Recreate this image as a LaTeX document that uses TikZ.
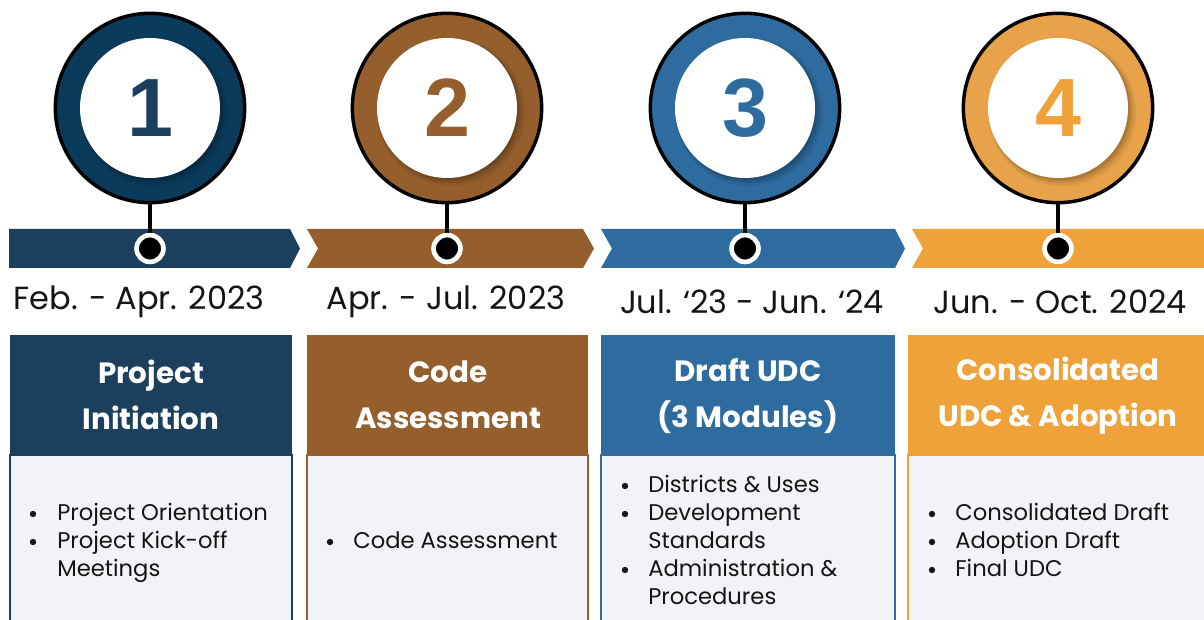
\documentclass[tikz,border=0pt]{standalone}
\usepackage{fontspec}
\setmainfont{Poppins}
\newfontfamily\numfont{Liberation Sans}
\definecolor{cnavy}{HTML}{1B3F5C}
\definecolor{cnavyring}{HTML}{0B3B5B}
\definecolor{cbrown}{HTML}{955F2D}
\definecolor{cblue}{HTML}{2E6CA0}
\definecolor{corange}{HTML}{F0A23A}
\definecolor{corangering}{HTML}{E8A34A}
\definecolor{bodygray}{HTML}{F2F3F7}
\definecolor{ink}{HTML}{141414}
\tikzset{
  ring/.style={circle, draw=black, line width=2.6pt, minimum size=142pt, inner sep=0pt},
  face/.style={circle, fill=white, minimum size=105pt, inner sep=0pt,
               font=\numfont\bfseries\fontsize{62}{62}\selectfont},
  pin/.style={circle, fill=black, draw=white, line width=3.4pt, minimum size=20pt, inner sep=0pt},
  stem/.style={line width=3pt, black},
  datelbl/.style={font=\fontsize{24}{26}\selectfont, text=ink, inner sep=0pt},
  hdr/.style={font=\bfseries\fontsize{22}{34.5}\selectfont, text=white, align=center, inner sep=0pt},
  item/.style={font=\fontsize{17}{18}\selectfont, text=ink, anchor=base west, inner sep=0pt},
}
% one bullet line: name, x of bullet, x of text, baseline y, text
\newcommand\bulletline[5]{%
  \fill[ink] (#2,#4-6) circle (3.2);
  \node[item] (#1) at (#3,#4) {#5};}
\newcommand\contline[4]{\node[item] (#1) at (#2,#3) {#4};}
\begin{document}
\begin{tikzpicture}[x=0.75pt, y=-0.75pt]
\useasboundingbox (0,0) rectangle (1204,620);
\clip (0,0) rectangle (1204,620);

% timeline bar made of chevrons
\fill[cnavy]  (9,229) -- (290,229) -- (300,248.5) -- (290,268) -- (9,268) -- cycle;
\fill[cbrown] (307,229) -- (583,229) -- (594,248.5) -- (583,268) -- (307,268) -- (318,248.5) -- cycle;
\fill[cblue]  (601,229) -- (895,229) -- (905,248.5) -- (895,268) -- (601,268) -- (612,248.5) -- cycle;
\fill[corange](912,229) -- (1210,229) -- (1210,268) -- (912,268) -- (923,248.5) -- cycle;

% numbered milestone rings
\foreach \n/\cx/\ring/\numc/\lab in {1/150/cnavyring/cnavy/1, 2/447/cbrown/cbrown/2, 3/745/cblue/cblue/3, 4/1058/corangering/corange/4}{
  \node[ring, fill=\ring] (r\n) at (\cx,108) {};
  \fill[black, opacity=.07] (\cx+4,112) circle (74);
  \fill[black, opacity=.09] (\cx+3,111) circle (72);
  \fill[black, opacity=.12] (\cx+2,110) circle (70.5);
  \node[face, text=\numc] (f\n) at (\cx,108) {\lab};
  \node[pin] (p\n) at (\cx,248.5) {};
  \draw[stem] (r\n.south) -- (p\n.north);
  \node[pin] at (p\n) {};
}

% dates
\node[datelbl] (d1) at (139,302) {Feb. - Apr. 2023};
\node[datelbl] (d2) at (446,302) {Apr. - Jul. 2023};
\node[datelbl] (d3) at (752,302) {Jul. ‘23 - Jun. ‘24};
\node[datelbl] (d4) at (1060,302) {Jun. - Oct. 2024};

% phase boxes
\foreach \l/\r/\c in {10/292/cnavy, 307/588/cbrown, 601/895/cblue, 908/1215/corange}{
  \fill[bodygray] (\l,455) rectangle (\r,630);
  \draw[\c, line width=1.6pt] (\l,455) rectangle (\r,630);
  \fill[\c] (\l,335) rectangle (\r,455);
}
\node[hdr] (h1) at (151,395) {Project\\Initiation};
\node[hdr] (h2) at (448,395) {Code\\Assessment};
\node[hdr] (h3) at (748,396) {Draft UDC\\(3 Modules)};
\node[hdr] (h4) at (1058,396) {Consolidated\\UDC \& Adoption};

% phase tasks
\bulletline{t1a}{33}{57}{520}{Project Orientation}
\bulletline{t1b}{33}{57}{548}{Project Kick-off}
\contline{t1c}{57}{576}{Meetings}

\bulletline{t2a}{330}{353}{548}{Code Assessment}

\bulletline{t3a}{625}{648}{492}{Districts \& Uses}
\bulletline{t3b}{625}{648}{520}{Development}
\contline{t3c}{648}{548}{Standards}
\bulletline{t3d}{625}{648}{576}{Administration \&}
\contline{t3e}{648}{604}{Procedures}

\bulletline{t4a}{932}{955}{520}{Consolidated Draft}
\bulletline{t4b}{932}{955}{548}{Adoption Draft}
\bulletline{t4c}{932}{955}{576}{Final UDC}
\end{tikzpicture}
\end{document}
